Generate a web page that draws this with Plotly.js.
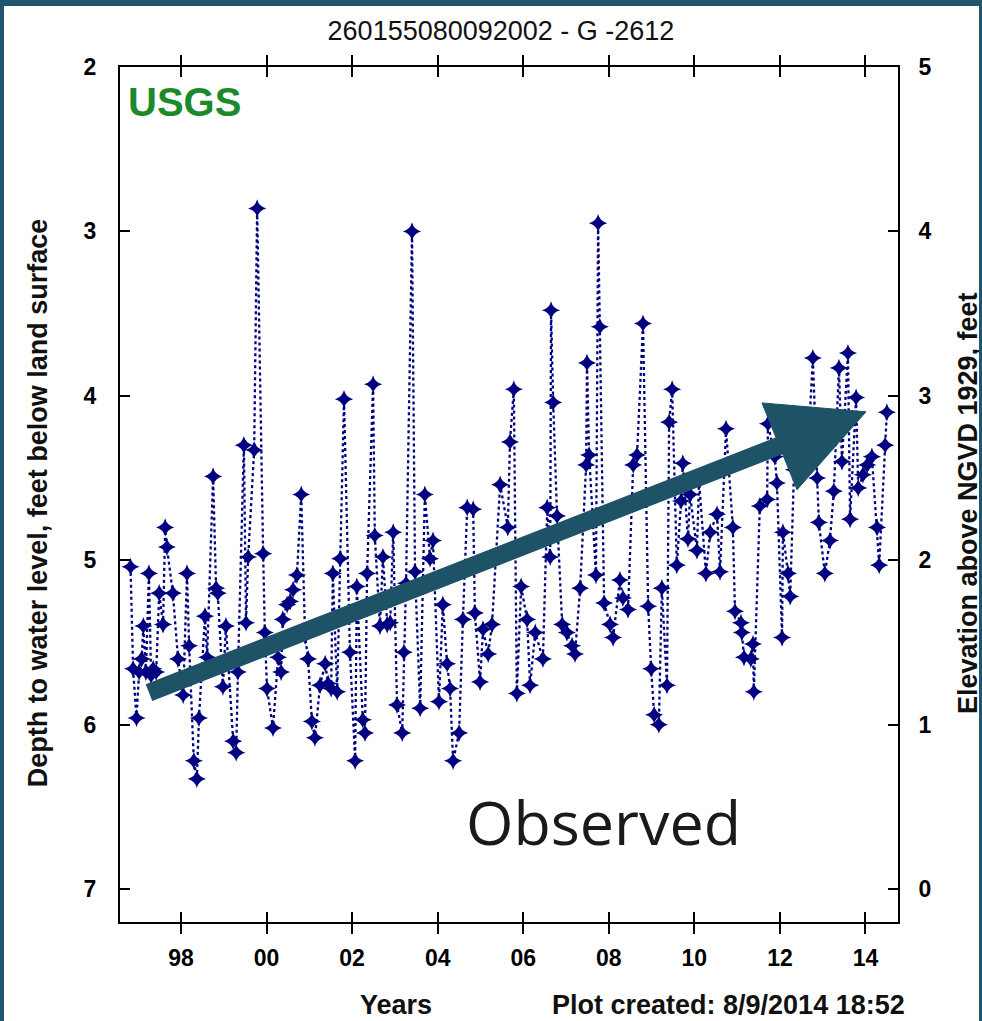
<!DOCTYPE html>
<html>
<head>
<meta charset="utf-8">
<script src="https://cdn.plot.ly/plotly-3.0.1.min.js"></script>
<style>
  html, body { margin: 0; padding: 0; background: #ffffff; }
  #wrap { position: relative; width: 982px; height: 1021px; overflow: hidden; }
  #chart { position: absolute; left: 0; top: 0; width: 982px; height: 1021px; }
  .frame { position: absolute; background: #1f566e; z-index: 5; }
</style>
</head>
<body>
<div id="wrap">
  <div id="chart"></div>
  <div class="frame" style="left:0;top:0;width:982px;height:6px;"></div>
  <div class="frame" style="left:0;top:0;width:4px;height:1021px;"></div>
  <div class="frame" style="left:979px;top:0;width:3px;height:1021px;"></div>
</div>
<script>
// ---- data (decimal year, depth to water in feet below land surface) ----
const years = [
1996.82,1996.88,1996.96,1997.02,1997.08,1997.12,1997.18,1997.25,1997.30,1997.35,
1997.42,1997.49,1997.58,1997.63,1997.67,1997.81,1997.93,1998.05,1998.14,1998.19,
1998.30,1998.37,1998.42,1998.56,1998.61,1998.75,1998.82,1998.86,1998.98,1999.05,
1999.22,1999.29,1999.33,1999.47,1999.52,1999.57,1999.71,1999.78,1999.92,1999.96,
2000.01,2000.15,2000.27,2000.34,2000.38,2000.48,2000.55,2000.62,2000.71,2000.81,
2000.90,2000.97,2001.06,2001.13,2001.25,2001.37,2001.44,2001.51,2001.55,2001.65,
2001.72,2001.81,2001.95,2002.07,2002.11,2002.25,2002.30,2002.35,2002.49,2002.53,
2002.65,2002.72,2002.82,2002.89,2002.96,2003.05,2003.17,2003.21,2003.26,2003.40,
2003.47,2003.59,2003.70,2003.82,2003.89,2004.03,2004.12,2004.22,2004.29,2004.36,
2004.50,2004.59,2004.69,2004.83,2004.87,2004.99,2005.06,2005.18,2005.27,2005.46,
2005.64,2005.69,2005.78,2005.85,2005.95,2006.09,2006.16,2006.28,2006.46,2006.56,
2006.63,2006.65,2006.70,2006.79,2006.91,2007.02,2007.14,2007.21,2007.33,2007.47,
2007.49,2007.54,2007.70,2007.75,2007.79,2007.89,2008.03,2008.10,2008.26,2008.33,
2008.45,2008.57,2008.66,2008.80,2008.92,2008.99,2009.06,2009.17,2009.24,2009.36,
2009.41,2009.48,2009.59,2009.69,2009.73,2009.85,2009.90,2010.06,2010.11,2010.27,
2010.37,2010.53,2010.60,2010.74,2010.90,2010.95,2011.09,2011.11,2011.16,2011.32,
2011.37,2011.39,2011.53,2011.70,2011.72,2011.88,2011.93,2012.05,2012.07,2012.19,
2012.24,2012.33,2012.50,2012.65,2012.77,2012.87,2012.91,2013.05,2013.17,2013.26,
2013.38,2013.45,2013.59,2013.64,2013.78,2013.83,2013.94,2014.04,2014.15,2014.27,
2014.32,2014.46,2014.50
];
const depthFt = [
5.04,5.66,5.96,5.68,5.60,5.40,5.68,5.08,5.70,5.66,
5.68,5.20,5.39,4.80,4.92,5.20,5.60,5.82,5.08,5.52,
6.22,6.33,5.96,5.34,5.59,4.49,5.17,5.20,5.77,5.40,
6.10,6.17,5.68,4.30,5.38,4.98,4.33,2.86,4.96,5.44,
5.78,6.02,5.59,5.68,5.36,5.27,5.25,5.18,5.09,4.60,
5.46,5.60,5.98,6.08,5.76,5.63,5.75,5.78,5.08,5.80,
4.99,4.02,5.56,6.22,5.16,5.97,6.05,5.08,3.93,4.85,
5.40,4.98,5.39,5.38,4.83,5.88,6.05,5.56,5.14,3.00,
5.07,5.90,4.60,4.99,4.88,5.86,5.27,5.63,5.78,6.22,
6.05,5.36,4.68,4.69,5.32,5.74,5.42,5.57,5.39,4.54,
4.80,4.28,3.96,5.81,5.16,5.36,5.76,5.44,5.60,4.68,
4.98,3.48,4.04,4.73,5.39,5.44,5.52,5.57,5.17,4.42,
3.80,4.36,5.09,2.95,3.58,5.26,5.39,5.47,5.12,5.23,
5.30,4.42,4.36,3.56,5.28,5.66,5.94,6.00,5.17,5.76,
4.16,3.96,5.03,4.64,4.41,4.87,4.60,4.94,4.52,5.08,
4.83,4.72,5.07,4.20,4.80,5.31,5.38,5.44,5.59,5.60,
5.51,5.80,4.67,4.63,4.17,4.37,4.53,5.47,4.83,5.08,
5.22,4.45,4.30,4.35,3.77,4.50,4.77,5.08,4.88,4.58,
3.83,4.40,3.74,4.75,4.01,4.56,4.48,4.42,4.37,4.80,
5.03,4.30,4.10
];
// land surface elevation (ft above NGVD 1929) linking the two vertical scales
const landSurfaceElev = 7;
const elevationFt = depthFt.map(d => landSurfaceElev - d);

const xTickVals = [1998, 2000, 2002, 2004, 2006, 2008, 2010, 2012, 2014];
const xTickText = ['98', '00', '02', '04', '06', '08', '10', '12', '14'];
const depthTicks = [2, 3, 4, 5, 6, 7];
const elevTicks = [0, 1, 2, 3, 4, 5];

const chartTitle = '260155080092002 - G -2612';
const leftTitle = 'Depth to water level, feet below land surface';
const rightTitle = 'Elevation above NGVD 1929, feet';
const xTitle = 'Years';
const createdNote = 'Plot created: 8/9/2014 18:52';
const agencyLabel = 'USGS';
const trendLabel = 'Observed';
// trend arrow (decimal year, depth)
const arrowStart = [1997.252, 5.805];
const arrowTip = [2014.012, 4.097];
const arrowBaseA = [2011.581, 4.043];
const arrowBaseB = [2012.399, 4.571];

const NAVY = '#000080';
const ARROW = '#1e5266';
const sans = '"Liberation Sans", Arial, sans-serif';

const traces = [
  {
    x: years, y: depthFt, type: 'scatter', mode: 'lines+markers',
    line: { color: NAVY, width: 2.3, dash: '3px,3px' },
    marker: { color: NAVY, symbol: 'star-diamond', size: 13 },
    hoverinfo: 'x+y', yaxis: 'y'
  },
  {
    x: years, y: elevationFt, type: 'scatter', mode: 'lines',
    line: { color: 'rgba(0,0,0,0)', width: 0 },
    hoverinfo: 'skip', yaxis: 'y2', showlegend: false
  }
];

const baseAxis = {
  showgrid: false, zeroline: false, showline: true, linecolor: '#000', linewidth: 2,
  ticks: 'inside', ticklen: 10, tickwidth: 2, tickcolor: '#000',
  tickfont: { family: sans, size: 23, color: '#000', weight: 'bold' }
};

const titleFont = { family: sans, size: 27, color: '#111', weight: 'bold' };

const layout = {
  width: 982, height: 1021,
  margin: { l: 120, r: 84, t: 67, b: 99, pad: 0 },
  paper_bgcolor: '#ffffff', plot_bgcolor: '#ffffff',
  showlegend: false,
  title: {
    text: chartTitle, x: 0.4897, xref: 'paper', xanchor: 'center',
    y: 1 - 31 / 1021, yref: 'container', yanchor: 'middle',
    font: { family: sans, size: 27, color: '#111' }
  },
  xaxis: Object.assign({}, baseAxis, {
    range: [1996.574, 2014.76], tickmode: 'array', tickvals: xTickVals, ticktext: xTickText,
    mirror: 'allticks', ticklabelstandoff: 14
  }),
  yaxis: Object.assign({}, baseAxis, {
    range: [7.2, 2], tickmode: 'array', tickvals: depthTicks, mirror: false,
    ticklabelstandoff: 17
  }),
  yaxis2: Object.assign({}, baseAxis, {
    overlaying: 'y', side: 'right', range: [-0.2, 5], tickmode: 'array', tickvals: elevTicks,
    ticklabelstandoff: 14
  }),
  shapes: [
    { type: 'line', xref: 'x', yref: 'y', layer: 'above',
      x0: arrowStart[0], y0: arrowStart[1],
      x1: (arrowBaseA[0] + arrowBaseB[0]) / 2 + 0.2,
      y1: arrowStart[1] + ((arrowBaseA[0] + arrowBaseB[0]) / 2 + 0.2 - arrowStart[0]) * (arrowTip[1] - arrowStart[1]) / (arrowTip[0] - arrowStart[0]),
      line: { color: ARROW, width: 18 } },
    { type: 'path', xref: 'x', yref: 'y', layer: 'above',
      path: `M ${arrowBaseA[0]},${arrowBaseA[1]} L ${arrowTip[0]},${arrowTip[1]} L ${arrowBaseB[0]},${arrowBaseB[1]} Z`,
      fillcolor: ARROW, line: { color: ARROW, width: 1 } }
  ],
  annotations: [
    { text: agencyLabel, xref: 'paper', yref: 'paper', x: 0.008, y: 0.959, xanchor: 'left', yanchor: 'middle',
      showarrow: false, font: { family: sans, size: 40, color: '#1a8a2a', weight: 'bold' } },
    { text: trendLabel, xref: 'paper', yref: 'paper', x: 0.622, y: 0.117, xanchor: 'center', yanchor: 'middle',
      showarrow: false, font: { family: '"Open Sans", "Noto Sans", sans-serif', size: 61, color: '#1a1a1a' } },
    { text: leftTitle, xref: 'paper', yref: 'paper', x: -0.105, y: 0.49, xanchor: 'center', yanchor: 'middle',
      textangle: -90, showarrow: false, font: titleFont },
    { text: rightTitle, xref: 'paper', yref: 'paper', x: 1.09, y: 0.49, xanchor: 'center', yanchor: 'middle',
      textangle: -90, showarrow: false, font: titleFont },
    { text: xTitle, xref: 'paper', yref: 'paper', x: 0.355, y: -0.097, xanchor: 'center', yanchor: 'middle',
      showarrow: false, font: titleFont },
    { text: createdNote, xref: 'paper', yref: 'paper', x: 0.7815, y: -0.097, xanchor: 'center', yanchor: 'middle',
      showarrow: false, font: titleFont }
  ]
};

Plotly.newPlot('chart', traces, layout, { staticPlot: true, displayModeBar: false });
</script>
</body>
</html>
